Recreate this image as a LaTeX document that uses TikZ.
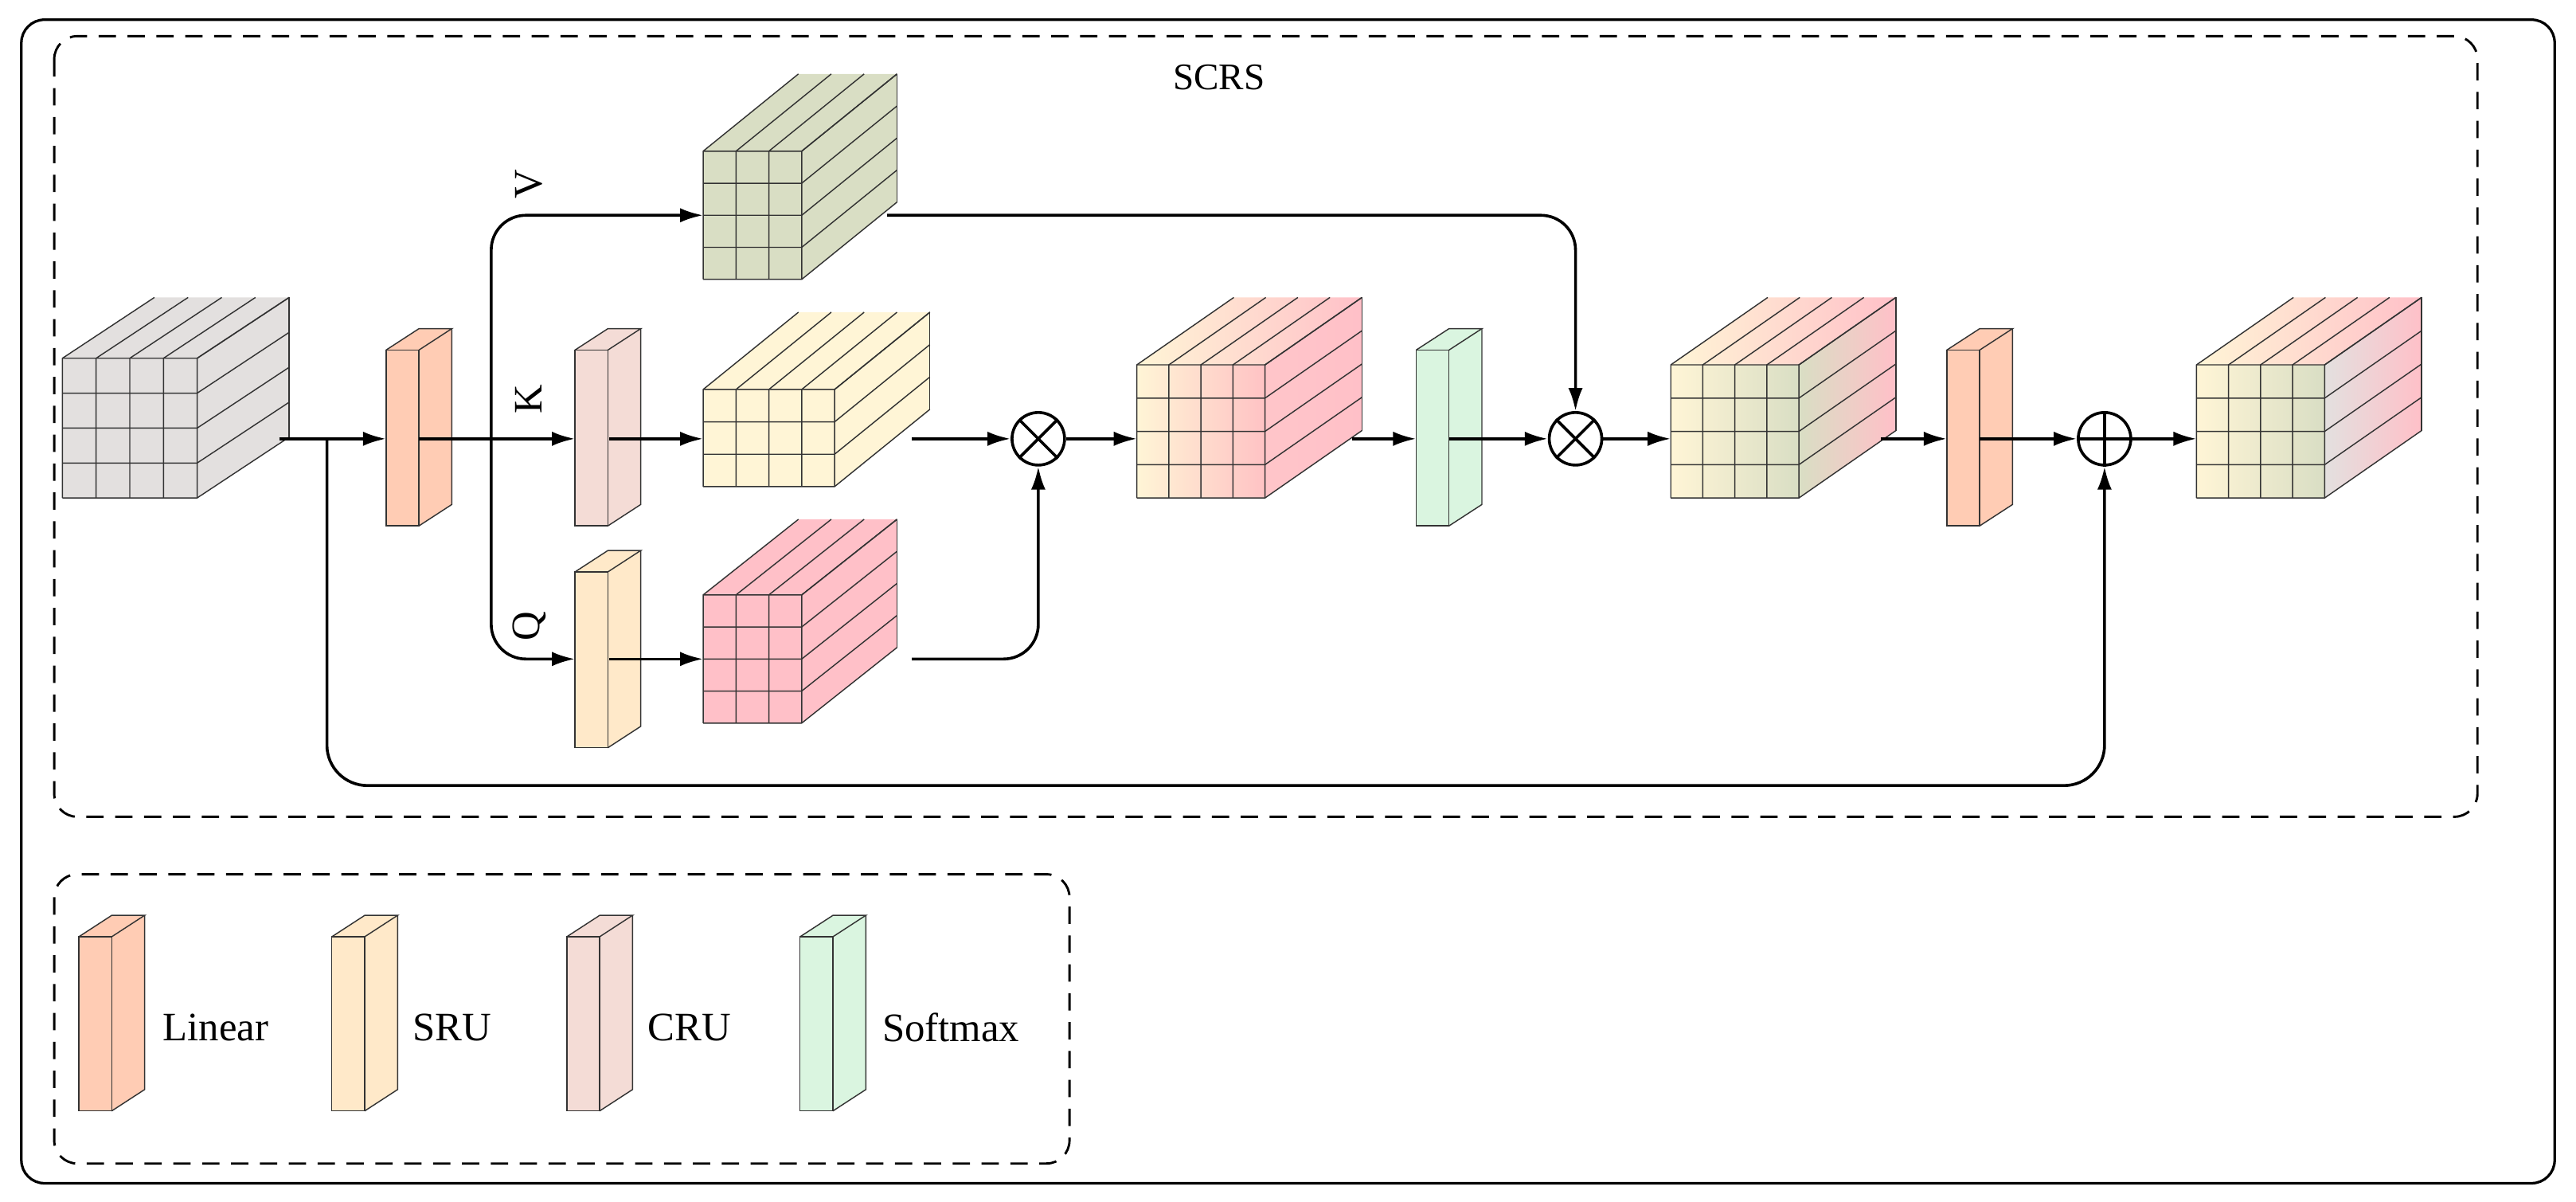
\documentclass[tikz,border=0pt]{standalone}
\usepackage{fontspec}
\setmainfont{Liberation Serif}
\usetikzlibrary{arrows.meta}
\definecolor{cgray}{HTML}{E3E0DF}
\definecolor{clin}{HTML}{FFCCB4}
\definecolor{ccru}{HTML}{F4DCD6}
\definecolor{csru}{HTML}{FFE9C9}
\definecolor{csoft}{HTML}{DAF5E0}
\definecolor{colive}{HTML}{D9DEC4}
\definecolor{cyel}{HTML}{FFF5D6}
\definecolor{cpink}{HTML}{FFC0C8}
\definecolor{cgray2}{HTML}{E3E0DF}
\tikzset{
 edge/.style={line width=1pt,-{Latex[length=8pt,width=5pt]}},
 line/.style={line width=1pt},
 grid/.style={line width=0.4pt,draw=black!80},
 lbl/.style={font=\fontsize{14}{16}\selectfont}
}
% cube: x y cols rows cw ch dx dy frontfill topfill sidefill
\newcommand\mycube[8]{%
 \def\cx{#1}\def\cy{#2}\def\nc{#3}\def\nr{#4}\def\cw{#5}\def\ch{#6}\def\ddx{#7}\def\ddy{#8}%
 \mycubeB}
\newcommand\mycubeB[3]{%
 \pgfmathsetmacro\W{\nc*\cw}\pgfmathsetmacro\H{\nr*\ch}%
 \path[#1] (\cx,\cy) rectangle ++(\W,\H);
 \path[#2] (\cx,\cy) -- ++(\W,0) -- ++(\ddx,-\ddy) -- ++(-\W,0) -- cycle;
 \path[#3] (\cx+\W,\cy) -- ++(\ddx,-\ddy) -- ++(0,\H) -- ++(-\ddx,\ddy) -- cycle;
 \foreach \i in {0,...,\nc}{\draw[grid] (\cx+\i*\cw,\cy+\H) -- (\cx+\i*\cw,\cy) -- ++(\ddx,-\ddy);}
 \foreach \j in {0,...,\nr}{\draw[grid] (\cx,\cy+\j*\ch) -- (\cx+\W,\cy+\j*\ch) -- ++(\ddx,-\ddy);}
 \draw[grid] (\cx+\W+\ddx,\cy-\ddy) -- ++(0,\H);
}
\newcommand\myblock[4]{% x y color height
 \fill[#3] (#1,#2) rectangle ++(20,#4);
 \fill[#3] (#1,#2) -- ++(20,0) -- ++(20,-13) -- ++(-20,0) -- cycle;
 \fill[#3] (#1+20,#2) -- ++(20,-13) -- ++(0,#4) -- ++(-20,13) -- cycle;
 \draw[grid] (#1,#2) rectangle ++(20,#4);
 \draw[grid] (#1,#2) -- ++(20,-13) -- ++(20,0) -- ++(-20,13);
 \draw[grid] (#1+40,#2-13) -- ++(0,#4) -- ++(-20,13);
}
\begin{document}
\begin{tikzpicture}[x=0.02cm,y=-0.02cm]
\useasboundingbox (0,0) rectangle (1568,731.4);
\draw[line width=0.9pt,rounded corners=8] (13,12) rectangle (1555,720);
\draw[line width=0.8pt,dashed,dash pattern=on 6pt off 4pt,rounded corners=8] (33,22) rectangle (1508,497);
\draw[line width=0.8pt,dashed,dash pattern=on 6pt off 4pt,rounded corners=8] (33,532) rectangle (651,708);
\node[font=\fontsize{13}{15}\selectfont] (title) at (742,47) {SCRS};

% cubes
\mycube{38}{218}{4}{4}{20.5}{21.25}{56}{37}{fill=cgray}{fill=cgray}{fill=cgray}
\mycube{428}{92}{3}{4}{20}{19.5}{58}{47}{fill=colive}{fill=colive}{fill=colive}
\mycube{428}{237}{4}{3}{20}{19.7}{58}{47}{fill=cyel}{fill=cyel}{fill=cyel}
\mycube{428}{362}{3}{4}{20}{19.5}{58}{46}{fill=cpink}{fill=cpink}{fill=cpink}
\mycube{692}{222}{4}{4}{19.5}{20.25}{59}{41}{left color=cyel,right color=cpink!80!clin}{left color=cyel,right color=cpink}{left color=cpink!90!cyel,right color=cpink}
\mycube{1017}{222}{4}{4}{19.5}{20.25}{59}{41}{left color=cyel,right color=colive}{left color=cyel,right color=cpink}{left color=colive,right color=cpink}
\mycube{1337}{222}{4}{4}{19.5}{20.25}{59}{41}{left color=cyel,right color=colive}{left color=cyel,right color=cpink}{left color=cgray2,right color=cpink}

% blocks
\myblock{235}{213}{clin}{107}
\myblock{350}{213}{ccru}{107}
\myblock{350}{348}{csru}{107}
\myblock{862}{213}{csoft}{107}
\myblock{1185}{213}{clin}{107}

% ops
\node[draw,line width=1pt,circle,minimum size=32*0.02cm,inner sep=0] (m1) at (632,267) {};
\draw[line width=1pt] (m1.45)--(m1.225) (m1.135)--(m1.315);
\node[draw,line width=1pt,circle,minimum size=32*0.02cm,inner sep=0] (m2) at (959,267) {};
\draw[line width=1pt] (m2.45)--(m2.225) (m2.135)--(m2.315);
\node[draw,line width=1pt,circle,minimum size=32*0.02cm,inner sep=0] (p1) at (1281,267) {};
\draw[line width=1pt] (p1.north)--(p1.south) (p1.west)--(p1.east);

% coordinates
\coordinate (in) at (170,267);
\coordinate (lin1) at (235,267);
\coordinate (lin1o) at (255,267);
\coordinate (cru) at (350,267);
\coordinate (cruo) at (371,267);
\coordinate (kc) at (428,267);
\coordinate (kco) at (555,267);
\coordinate (vc) at (428,131);
\coordinate (vco) at (540,131);
\coordinate (sru) at (350,401);
\coordinate (sruo) at (371,401);
\coordinate (qc) at (428,401);
\coordinate (qco) at (555,401);
\coordinate (ca) at (692,267);
\coordinate (cao) at (823,267);
\coordinate (sm) at (862,267);
\coordinate (smo) at (882,267);
\coordinate (cb) at (1017,267);
\coordinate (cbo) at (1145,267);
\coordinate (lin2) at (1185,267);
\coordinate (lin2o) at (1205,267);
\coordinate (cf) at (1337,267);
\coordinate (br) at (199,267);

\draw[edge] (in) -- (lin1);
\draw[edge] (lin1o) -- (cru);
\draw[edge] (cruo) -- (kc);
\draw[edge,rounded corners=12] (299,267) -- (299,131) -- (vc);
\draw[edge,rounded corners=12] (299,267) -- (299,401) -- (sru);
\draw[edge] (sruo) -- (qc);
\draw[edge] (kco) -- (m1);
\draw[edge,rounded corners=12] (qco) -- (m1.south |- qco) -- (m1.south);
\draw[edge] (m1) -- (ca);
\draw[edge] (cao) -- (sm);
\draw[edge] (smo) -- (m2);
\draw[edge,rounded corners=12] (vco) -- (m2.north |- vco) -- (m2.north);
\draw[edge] (m2) -- (cb);
\draw[edge] (cbo) -- (lin2);
\draw[edge] (lin2o) -- (p1);
\draw[edge] (p1) -- (cf);
\draw[edge,rounded corners=14] (br) -- (199,478) -- (p1.south |- 0,478) -- (p1.south);

\node[lbl,rotate=90] (V) at (322,112) {V};
\node[lbl,rotate=90] (K) at (322,243) {K};
\node[lbl,rotate=90] (Q) at (322,381) {Q};

% legend
\myblock{48}{570}{clin}{106}
\node[lbl,anchor=west] (l1) at (93,625) {Linear};
\myblock{202}{570}{csru}{106}
\node[lbl,anchor=west] (l2) at (245,625) {SRU};
\myblock{345}{570}{ccru}{106}
\node[lbl,anchor=west] (l3) at (388,625) {CRU};
\myblock{487}{570}{csoft}{106}
\node[lbl,anchor=west] (l4) at (531,625) {Softmax};
\end{tikzpicture}
\end{document}
